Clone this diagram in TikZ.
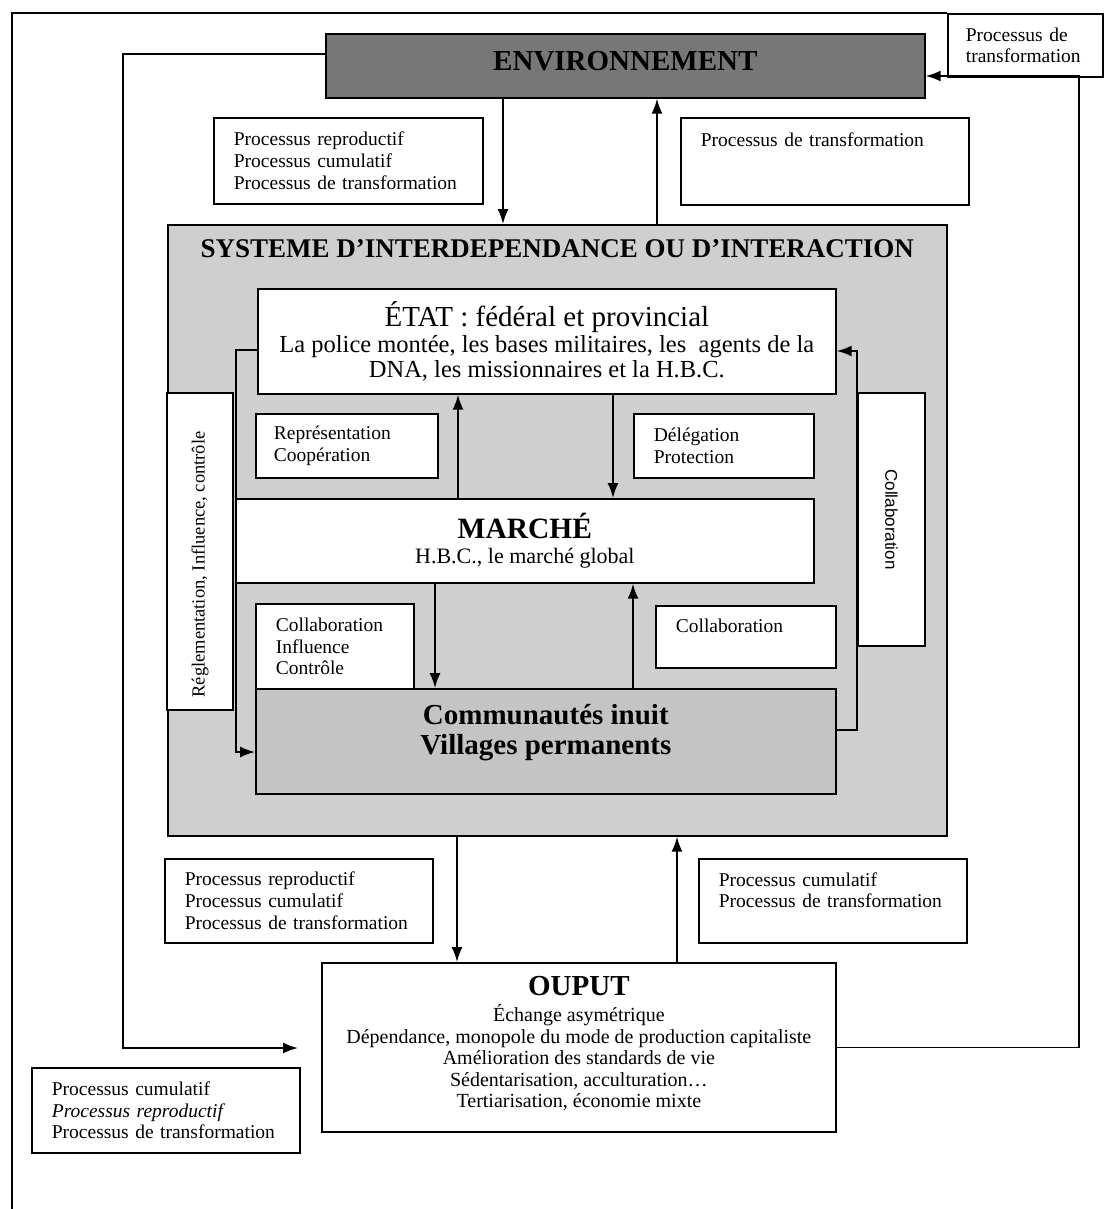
\documentclass[tikz,border=0pt]{standalone}
\usepackage{fontspec}
\setmainfont{Liberation Serif}
\newfontfamily\arialfont{Liberation Sans}
\usetikzlibrary{arrows.meta, positioning}
\definecolor{envgray}{HTML}{777777}
\definecolor{sysgray}{HTML}{CFCFCF}
\definecolor{comgray}{HTML}{C4C4C4}
\newcommand{\proctxt}{\fontsize{19.5}{21.7}\selectfont}
\tikzstyle{frame} = [draw, line width=1.7pt, inner sep=0pt, anchor=north west]
\tikzstyle{procbox} = [frame, fill=white, align=left, inner xsep=20pt, font=\proctxt]
\tikzstyle{actor} = [frame, fill=white, align=center]
\tikzstyle{vbox} = [draw, line width=1.7pt, fill=white, inner sep=0pt, font=\fontsize{18.5}{20}\selectfont]
\tikzstyle{flow} = [line width=1.7pt, -{Latex[length=15pt,width=11pt]}]
\tikzstyle{wire} = [line width=1.7pt]

\begin{document}
\begin{tikzpicture}[x=1pt, y=-1pt]
  \useasboundingbox (0,0) rectangle (1109,1209);
  % outside world
  \node (env) [frame, fill=envgray, minimum width=599pt, minimum height=64pt, text depth=10pt, font=\fontsize{29}{32}\selectfont\bfseries] at (325,33) {ENVIRONNEMENT};
  \node (trans) [procbox, inner xsep=18pt, text width=119pt, minimum height=63pt] at (947,13) {Processus de\\transformation};
  \node (procA) [procbox, text width=229pt, minimum height=86pt] at (213,117) {Processus reproductif\\Processus cumulatif\\Processus de transformation};
  \node (procB) [procbox, text width=248pt, minimum height=87pt] at (680,117) {Processus de transformation\\~\\~};
  % the system and its actors
  \node (sys) [frame, fill=sysgray, minimum width=779pt, minimum height=611pt] at (167,224) {};
  \node (systitle) [below=15pt of sys.north, inner sep=0pt, font=\fontsize{27}{30}\selectfont\bfseries] {SYSTEME D’INTERDEPENDANCE OU D’INTERACTION};
  \node (etat) [actor, minimum width=578pt, minimum height=105pt, font=\fontsize{24.5}{25}\selectfont] at (257,288) {{\fontsize{29}{28}\selectfont ÉTAT : fédéral et provincial}\\[1pt]La police montée, les bases militaires, les \ agents de la\\DNA, les missionnaires et la H.B.C.};
  \node (regl) [vbox, rotate=90, minimum width=317pt, minimum height=66pt] at (200,551.5) {Réglementation, Influence, contrôle\kern26pt};
  \node (collv) [vbox, rotate=-90, minimum width=253pt, minimum height=67pt, font=\arialfont\fontsize{17}{19}\selectfont] at (891.5,519.5) {Collaboration};
  \node (repr) [procbox, inner xsep=18pt, text width=146pt, minimum height=64pt] at (255,413) {Représentation\\Coopération};
  \node (deleg) [procbox, text width=140pt, minimum height=64pt] at (633,413) {Délégation\\Protection};
  \node (marche) [actor, minimum width=578pt, minimum height=84pt, font=\fontsize{22}{25}\selectfont] at (235,498) {{\fontsize{29.5}{28}\selectfont\bfseries MARCHÉ}\\H.B.C., le marché global};
  \node (collab) [procbox, text width=118pt, minimum height=85pt] at (255,603) {Collaboration\\Influence\\Contrôle};
  \node (collab2) [procbox, text width=140pt, minimum height=62pt] at (655,605) {Collaboration\\~};
  \node (comm) [actor, fill=comgray, minimum width=580pt, minimum height=105pt, text depth=24pt, font=\fontsize{29}{30}\selectfont\bfseries] at (255,688) {Communautés inuit\\Villages permanents};
  % results
  \node (procC) [procbox, text width=228pt, minimum height=84pt] at (164,858) {Processus reproductif\\Processus cumulatif\\Processus de transformation};
  \node (procD) [procbox, text width=228pt, minimum height=84pt] at (698,858) {Processus cumulatif\\Processus de transformation\\~};
  \node (out) [actor, minimum width=514pt, minimum height=169pt, text depth=10pt, font=\fontsize{20}{21.5}\selectfont] at (321,962) {{\fontsize{29}{29}\selectfont\bfseries OUPUT}\\[4.5pt]Échange asymétrique\\Dépendance, monopole du mode de production capitaliste\\Amélioration des standards de vie\\Sédentarisation, acculturation…\\Tertiarisation, économie mixte};
  \node (procE) [procbox, text width=228pt, minimum height=85pt] at (31,1067) {Processus cumulatif\\\textit{Processus reproductif}\\Processus de transformation};

  % columns and corners of the connectors
  \coordinate (xa) at (503,0);
  \coordinate (xb) at (657,0);
  \coordinate (xc) at (458,0);
  \coordinate (xd) at (613,0);
  \coordinate (xe) at (435,0);
  \coordinate (xf) at (633,0);
  \coordinate (xg) at (457,0);
  \coordinate (xh) at (677,0);
  \coordinate (lt) at (0,54);
  \coordinate (ll) at (123,1048);
  \coordinate (rr) at (1079,76);
  \coordinate (fb) at (12,1209);
  \coordinate (ly) at (0,350);
  \coordinate (lc) at (236,752);
  \coordinate (ry) at (0,730);
  \coordinate (rc) at (857,351);

  \draw [flow] (env.south -| xa) -- (sys.north -| xa);
  \draw [flow] (sys.north -| xb) -- (env.south -| xb);
  \draw [flow] (marche.north -| xc) -- (etat.south -| xc);
  \draw [flow] (etat.south -| xd) -- (marche.north -| xd);
  \draw [flow] (marche.south -| xe) -- (comm.north -| xe);
  \draw [flow] (comm.north -| xf) -- (marche.south -| xf);
  \draw [flow] (sys.south -| xg) -- (out.north -| xg);
  \draw [flow] (out.north -| xh) -- (sys.south -| xh);
  \draw [flow] (etat.west |- ly) -| (lc) -- (comm.west |- lc);
  \draw [flow] (comm.east |- ry) -| (rc) -- (etat.east |- rc);
  % feedback loops
  \draw [flow, shorten >=23pt] (env.west |- lt) -| (ll) -- (out.west |- ll);
  \draw [flow] (out.east) -| (rr) -- (env.east |- rr);
  \draw [wire] (fb) |- (trans.north west);
\end{tikzpicture}
\end{document}
